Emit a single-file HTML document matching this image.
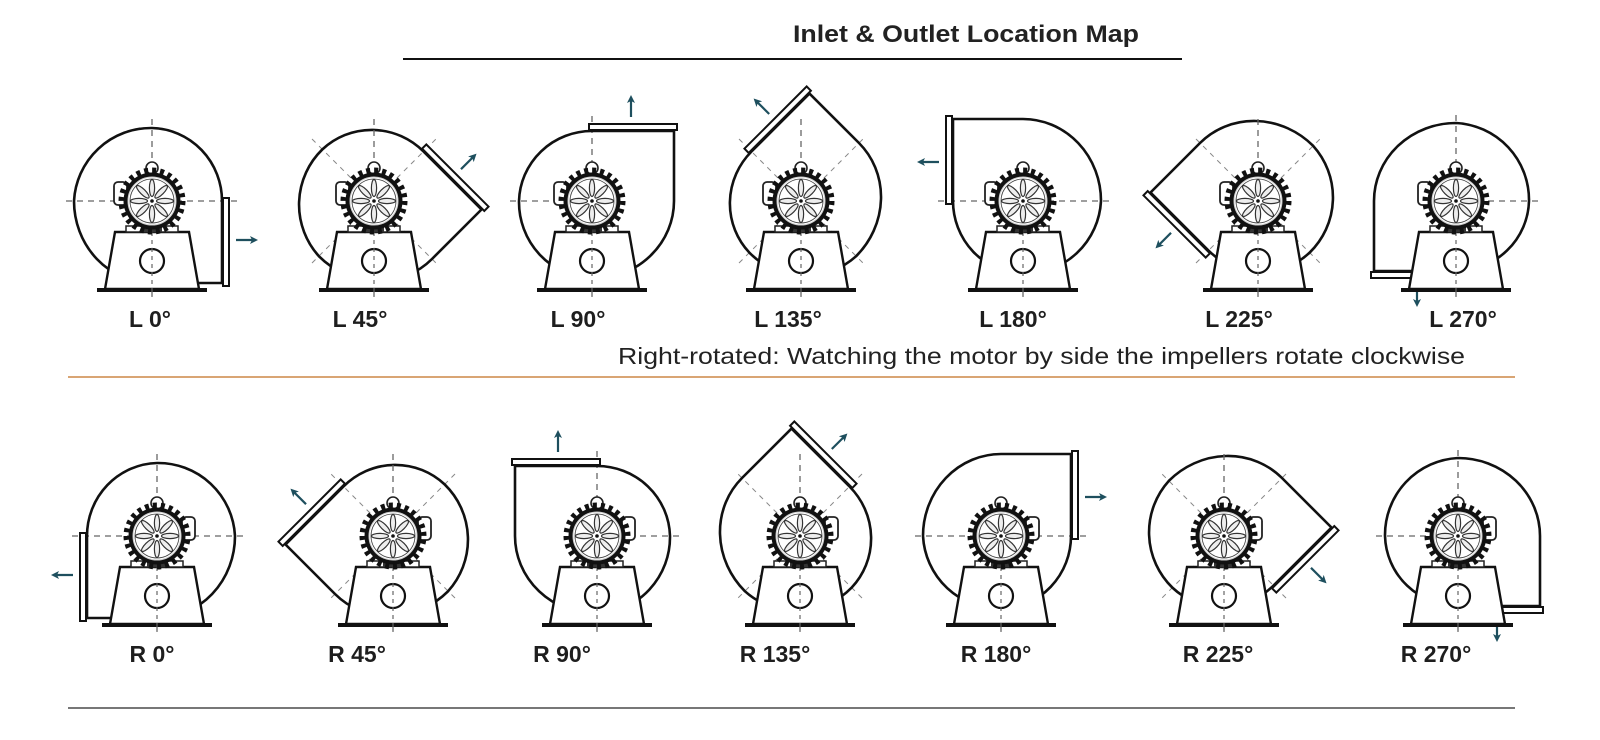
<!DOCTYPE html>
<html><head><meta charset="utf-8"><style>
html,body{margin:0;padding:0;background:#fff;}
svg{display:block;}
.lbl{font-family:"Liberation Sans",sans-serif;font-size:23px;font-weight:bold;fill:#1e1e1e;text-anchor:middle;}
</style></head><body>
<svg width="1600" height="740" viewBox="0 0 1600 740" xmlns="http://www.w3.org/2000/svg">
<defs>
<marker id="ah" markerWidth="8" markerHeight="8" refX="5" refY="4" orient="auto" markerUnits="userSpaceOnUse">
<path d="M0,0 L8,4 L0,8 L2,4 Z" fill="#1e4f5e"/></marker>
<g id="cross">
<line x1="-86" y1="0" x2="86" y2="0" stroke="#666" stroke-width="1.3" stroke-dasharray="6,5"/>
<line x1="0" y1="-82" x2="0" y2="0" stroke="#666" stroke-width="1.3" stroke-dasharray="6,5"/>
</g>
<g id="diag">
<line x1="-62" y1="-62" x2="62" y2="62" stroke="#888" stroke-width="1" stroke-dasharray="5,5"/>
<line x1="-62" y1="62" x2="62" y2="-62" stroke="#888" stroke-width="1" stroke-dasharray="5,5"/>
</g>
<g id="scroll">
<path d="M70,82 L70,0 A72 73 0 0 0 0,-73 A77 77 0 0 0 -78,0 A78 82 0 0 0 0,82 Z" fill="none" stroke="#111" stroke-width="2.6" stroke-linejoin="round"/>
<rect x="71" y="-3" width="6" height="88" fill="#fff" stroke="#111" stroke-width="2"/>
<line x1="84" y1="39" x2="103" y2="39" stroke="#1e4f5e" stroke-width="2.2" marker-end="url(#ah)"/>
</g>
<g id="spoke"><ellipse cx="0" cy="-13" rx="2.6" ry="8.5" fill="#eee" stroke="#333" stroke-width="1.2"/></g>
<g id="body">
<line x1="0" y1="0" x2="0" y2="96" stroke="#666" stroke-width="1.3" stroke-dasharray="5,5"/>
<polygon points="-37,31 37,31 47,88 -47,88" fill="#fff" stroke="#111" stroke-width="2.4"/>
<rect x="-55" y="87" width="110" height="4" fill="#111"/>
<circle cx="0" cy="60" r="12" fill="#fff" stroke="#111" stroke-width="2.2"/>
<line x1="0" y1="31" x2="0" y2="96" stroke="#666" stroke-width="1.2" stroke-dasharray="4,4"/>
<rect x="-26" y="25" width="52" height="6" fill="#fff" stroke="#222" stroke-width="1.5"/>
<rect x="-10" y="25" width="20" height="6" fill="#333"/>
<ellipse cx="0" cy="-33" rx="6" ry="6" fill="#fff" stroke="#222" stroke-width="1.6"/>
<rect x="-38" y="-19" width="13" height="23" rx="4" fill="#fff" stroke="#222" stroke-width="1.8"/>
<circle r="28.5" fill="#111"/>
<circle r="30.5" fill="none" stroke="#111" stroke-width="6" stroke-dasharray="3.99,3.99"/>
<circle r="24" fill="#fff" stroke="#ccc" stroke-width="1"/>
<circle r="22" fill="none" stroke="#444" stroke-width="0.8"/>
<use href="#spoke"/>
<use href="#spoke" transform="rotate(45)"/>
<use href="#spoke" transform="rotate(90)"/>
<use href="#spoke" transform="rotate(135)"/>
<use href="#spoke" transform="rotate(180)"/>
<use href="#spoke" transform="rotate(225)"/>
<use href="#spoke" transform="rotate(270)"/>
<use href="#spoke" transform="rotate(315)"/>
<circle r="1.8" fill="#111"/>
</g>
<line id="vd" x1="0" y1="-82" x2="0" y2="0" stroke="#666" stroke-width="1.3" stroke-dasharray="6,5"/>
</defs>

<text x="966" y="42" font-family="Liberation Sans, sans-serif" font-size="24" font-weight="bold" fill="#222" text-anchor="middle" textLength="346" lengthAdjust="spacingAndGlyphs">Inlet &amp; Outlet Location Map</text>
<rect x="403" y="58" width="779" height="2" fill="#111"/>

<!-- Top row L -->
<g transform="translate(152,201)"><g><use href="#cross"/><use href="#scroll"/></g><use href="#body"/></g>
<g transform="translate(374,201)"><use href="#diag"/><g transform="rotate(-45)"><use href="#scroll"/></g><use href="#vd"/><use href="#body"/></g>
<g transform="translate(592,201)"><g transform="rotate(-90)"><use href="#cross"/><use href="#scroll"/></g><use href="#body"/></g>
<g transform="translate(801,201)"><use href="#diag"/><g transform="rotate(-135)"><use href="#scroll"/></g><use href="#vd"/><use href="#body"/></g>
<g transform="translate(1023,201)"><g transform="rotate(-180)"><use href="#cross"/><use href="#scroll"/></g><use href="#body"/></g>
<g transform="translate(1258,201)"><use href="#diag"/><g transform="rotate(-225)"><use href="#scroll"/></g><use href="#vd"/><use href="#body"/></g>
<g transform="translate(1456,201)"><g transform="rotate(-270)"><use href="#cross"/><use href="#scroll"/></g><use href="#body"/></g>

<text class="lbl" x="150" y="327">L 0°</text>
<text class="lbl" x="360" y="327">L 45°</text>
<text class="lbl" x="578" y="327">L 90°</text>
<text class="lbl" x="788" y="327">L 135°</text>
<text class="lbl" x="1013" y="327">L 180°</text>
<text class="lbl" x="1239" y="327">L 225°</text>
<text class="lbl" x="1463" y="327">L 270°</text>

<text x="1465" y="364" font-family="Liberation Sans, sans-serif" font-size="23" fill="#222" text-anchor="end" textLength="847" lengthAdjust="spacingAndGlyphs">Right-rotated: Watching the motor by side the impellers rotate clockwise</text>
<rect x="68" y="376" width="1447" height="2" fill="#d9a574"/>

<!-- Bottom row R -->
<g transform="translate(157,536) scale(-1,1)"><g><use href="#cross"/><use href="#scroll"/></g><use href="#body"/></g>
<g transform="translate(393,536) scale(-1,1)"><use href="#diag"/><g transform="rotate(-45)"><use href="#scroll"/></g><use href="#vd"/><use href="#body"/></g>
<g transform="translate(597,536) scale(-1,1)"><g transform="rotate(-90)"><use href="#cross"/><use href="#scroll"/></g><use href="#body"/></g>
<g transform="translate(800,536) scale(-1,1)"><use href="#diag"/><g transform="rotate(-135)"><use href="#scroll"/></g><use href="#vd"/><use href="#body"/></g>
<g transform="translate(1001,536) scale(-1,1)"><g transform="rotate(-180)"><use href="#cross"/><use href="#scroll"/></g><use href="#body"/></g>
<g transform="translate(1224,536) scale(-1,1)"><use href="#diag"/><g transform="rotate(-225)"><use href="#scroll"/></g><use href="#vd"/><use href="#body"/></g>
<g transform="translate(1458,536) scale(-1,1)"><g transform="rotate(-270)"><use href="#cross"/><use href="#scroll"/></g><use href="#body"/></g>

<text class="lbl" x="152" y="662">R 0°</text>
<text class="lbl" x="357" y="662">R 45°</text>
<text class="lbl" x="562" y="662">R 90°</text>
<text class="lbl" x="775" y="662">R 135°</text>
<text class="lbl" x="996" y="662">R 180°</text>
<text class="lbl" x="1218" y="662">R 225°</text>
<text class="lbl" x="1436" y="662">R 270°</text>

<rect x="68" y="707" width="1447" height="2" fill="#777"/>
</svg>
</body></html>
